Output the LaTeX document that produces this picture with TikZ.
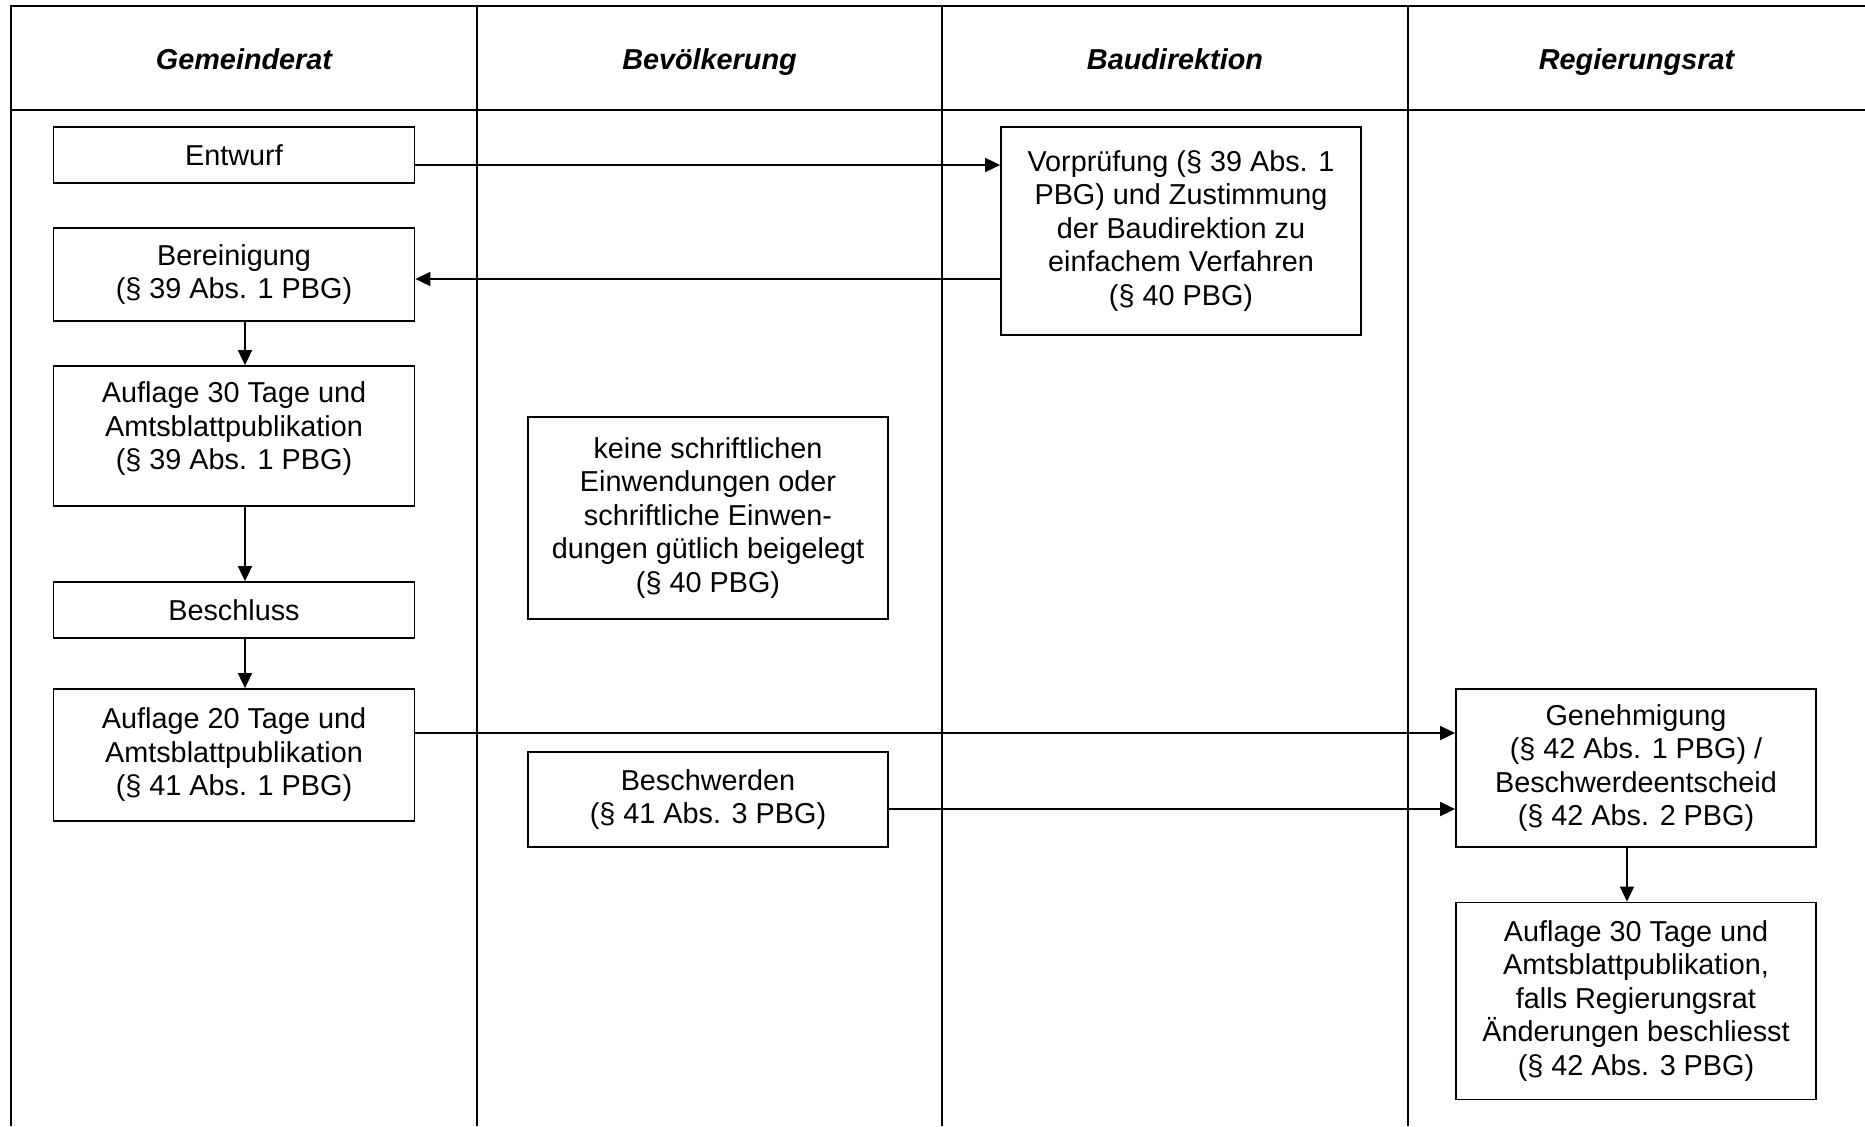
\documentclass[tikz,border=0pt]{standalone}
\usepackage{fontspec}
\setmainfont{Liberation Sans}
\usetikzlibrary{arrows.meta}
\tikzset{
  kasten/.style={draw, line width=0.9pt, rectangle, align=center, minimum width=180.5pt, inner sep=2pt, font=\fontsize{14.4}{16.75}\selectfont},
  pfeil/.style={line width=0.9pt, -{Triangle[length=7.5pt,width=7pt]}},
  linie/.style={line width=1.4pt},
  kopf/.style={anchor=base, font=\fontsize{14.4}{16.75}\selectfont\bfseries\itshape}
}
\begin{document}
\begin{tikzpicture}[x=0.5pt,y=-0.5pt]
  \useasboundingbox (0,0) rectangle (1865,1126);

  % Tabelle
  \draw [linie] (1865,6) -- (11,6) -- (11,1126);
  \draw [linie] (11,110) -- (1865,110);
  \draw [linie] (477,6) -- (477,1126);
  \draw [linie] (942,6) -- (942,1126);
  \draw [linie] (1408,6) -- (1408,1126);

  % Kopfzeile
  \node [kopf] (gemeinderat) at (244,69) {Gemeinderat};
  \node [kopf] (bevoelkerung) at (709.5,69) {Bevölkerung};
  \node [kopf] (baudirektion) at (1175,69) {Baudirektion};
  \node [kopf] (regierungsrat) at (1636.5,69) {Regierungsrat};

  % Gemeinderat
  \node [kasten, minimum height=28pt] (entwurf) at (234,155) {Entwurf};
  \node [kasten, minimum height=46.5pt] (bereinigung) at (234,274.5) {Bereinigung\\(§ 39 Abs. 1 PBG)};
  \node [kasten, minimum height=70pt, text depth=10pt] (auflagea) at (234,436) {Auflage 30 Tage und\\Amtsblattpublikation\\(§ 39 Abs. 1 PBG)};
  \node [kasten, minimum height=28pt] (beschluss) at (234,610) {Beschluss};
  \node [kasten, minimum height=66pt] (auflageb) at (234,755) {Auflage 20 Tage und\\Amtsblattpublikation\\(§ 41 Abs. 1 PBG)};

  % Bevoelkerung
  \node [kasten, minimum width=180pt, minimum height=101pt] (keine) at (708,518) {keine schriftlichen\\Einwendungen oder\\schriftliche Einwen-\\dungen gütlich beigelegt\\(§ 40 PBG)};
  \node [kasten, minimum width=180pt, minimum height=47.5pt] (beschwerden) at (708,799.5) {Beschwerden\\(§ 41 Abs. 3 PBG)};

  % Baudirektion
  \node [kasten, minimum width=180pt, minimum height=104pt] (vorpruefung) at (1181,231) {Vorprüfung (§ 39 Abs. 1\\PBG) und Zustimmung\\der Baudirektion zu\\einfachem Verfahren\\(§ 40 PBG)};

  % Regierungsrat
  \node [kasten, minimum width=180pt, minimum height=79pt] (genehmigung) at (1636,768) {Genehmigung\\(§ 42 Abs. 1 PBG) /\\Beschwerdeentscheid\\(§ 42 Abs. 2 PBG)};
  \node [kasten, minimum width=180pt, minimum height=98.5pt] (auflagec) at (1636,1001) {Auflage 30 Tage und\\Amtsblattpublikation,\\falls Regierungsrat\\Änderungen beschliesst\\(§ 42 Abs. 3 PBG)};

  % Pfeile
  \draw [pfeil] ([yshift=-5pt]entwurf.east) -- ([yshift=-5pt]entwurf.east -| vorpruefung.west);
  \draw [pfeil] ([yshift=-2.25pt]bereinigung.east -| vorpruefung.west) -- ([yshift=-2.25pt]bereinigung.east);
  \draw [pfeil] ([xshift=5.5pt]bereinigung.south) -- ([xshift=5.5pt]auflagea.north);
  \draw [pfeil] ([xshift=5.5pt]auflagea.south) -- ([xshift=5.5pt]beschluss.north);
  \draw [pfeil] ([xshift=5.5pt]beschluss.south) -- ([xshift=5.5pt]auflageb.north);
  \draw [pfeil] ([yshift=11pt]auflageb.east) -- ([yshift=11pt]auflageb.east -| genehmigung.west);
  \draw [pfeil] ([yshift=-4.75pt]beschwerden.east) -- ([yshift=-4.75pt]beschwerden.east -| genehmigung.west);
  \draw [pfeil] ([xshift=-4.5pt]genehmigung.south) -- ([xshift=-4.5pt]auflagec.north);
\end{tikzpicture}
\end{document}
